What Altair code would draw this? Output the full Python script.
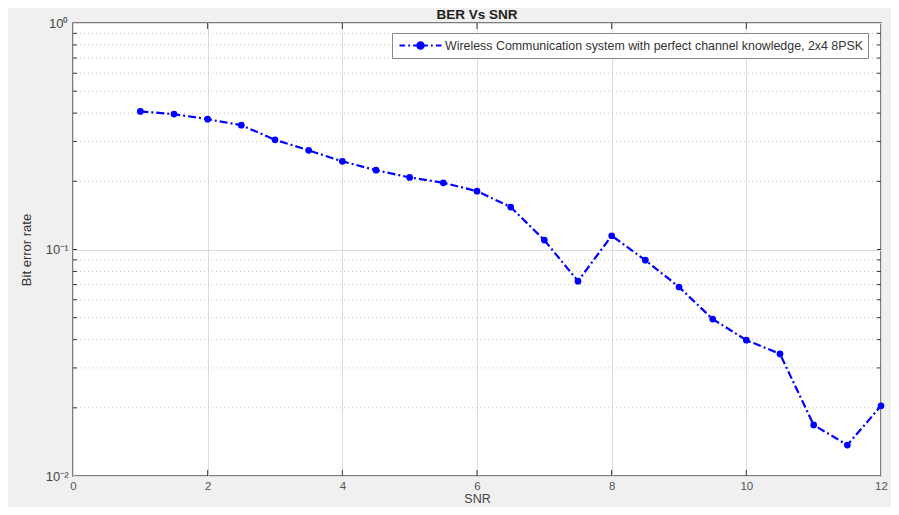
import altair as alt
import pandas as pd

snr = [1, 1.5, 2, 2.5, 3, 3.5, 4, 4.5, 5, 5.5, 6, 6.5, 7, 7.5, 8, 8.5, 9, 9.5, 10, 10.5, 11, 11.5, 12]
ber = [0.407, 0.396, 0.376, 0.354, 0.305, 0.274, 0.245, 0.224, 0.208, 0.197, 0.181, 0.154,
       0.110, 0.0725, 0.115, 0.0897, 0.0683, 0.0493, 0.0398, 0.0346, 0.0168, 0.0137, 0.0204]
series_name = "Wireless Communication system with perfect channel knowledge, 2x4 8PSK"
x_ticks = [0, 2, 4, 6, 8, 10, 12]
y_major = [0.01, 0.1, 1]
y_minor = [0.02, 0.03, 0.04, 0.05, 0.06, 0.07, 0.08, 0.09,
           0.2, 0.3, 0.4, 0.5, 0.6, 0.7, 0.8, 0.9]

df = pd.DataFrame({"SNR": snr, "BER": ber, "series": series_name})
minor_df = pd.DataFrame({"y": y_minor})
ytick_df = pd.DataFrame({"y": y_minor + [0.1]})
xtick_df = pd.DataFrame({"x": x_ticks[1:-1]})

FONT = "Liberation Sans"
BLUE = "#0000ff"
TICK = "#333333"

xscale = alt.Scale(domain=[0, 12], nice=False, zero=False)
yscale = alt.Scale(type="log", domain=[0.01, 1], nice=False)

# legend sample: dash-dot line with a filled circle, wider than tall
legend_symbol = (
    "M-3,0H-2.2M-1.75,0H-1.5M-1.05,0H-0.55"
    "M0.55,0H1.05M1.5,0H1.75M2.2,0H3"
    "M0.45,0A0.45,0.45 0 1,1 -0.45,0A0.45,0.45 0 1,1 0.45,0Z"
)

minor_grid = alt.Chart(minor_df).mark_rule(
    color="#c4c4c4", strokeDash=[1, 3], strokeWidth=1
).encode(
    y=alt.Y("y:Q", scale=yscale)
)

yticks_left = alt.Chart(ytick_df).mark_rule(color=TICK, strokeWidth=1).encode(
    y=alt.Y("y:Q", scale=yscale), x=alt.value(0), x2=alt.value(4)
)
yticks_right = alt.Chart(ytick_df).mark_rule(color=TICK, strokeWidth=1).encode(
    y=alt.Y("y:Q", scale=yscale), x=alt.value(804), x2=alt.value(808)
)
xticks_bottom = alt.Chart(xtick_df).mark_rule(color=TICK, strokeWidth=1).encode(
    x=alt.X("x:Q", scale=xscale), y=alt.value(453), y2=alt.value(447)
)
xticks_top = alt.Chart(xtick_df).mark_rule(color=TICK, strokeWidth=1).encode(
    x=alt.X("x:Q", scale=xscale), y=alt.value(0), y2=alt.value(6)
)

line = alt.Chart(df).mark_line(
    strokeWidth=2.2, strokeDash=[8, 3, 2, 3]
).encode(
    x=alt.X("SNR:Q", scale=xscale,
            axis=alt.Axis(values=x_ticks, title="SNR", grid=True, gridColor="#dcdcdc",
                          format="d", labelFlush=False,
                          labelColor="#555", labelFontSize=11.5, labelFont=FONT,
                          titleColor="#444", titleFontSize=12.5, titleFont=FONT,
                          titleFontWeight="normal", titlePadding=1, labelPadding=4,
                          domain=False, ticks=False)),
    y=alt.Y("BER:Q", scale=yscale,
            axis=alt.Axis(values=y_major, title="Bit error rate", grid=True, gridColor="#dcdcdc",
                          labelExpr="datum.value >= 0.99 ? '10⁰' : (datum.value >= 0.099 ? '10⁻¹' : '10⁻²')",
                          labelColor="#444", labelFontSize=13, labelFont=FONT,
                          titleColor="#333", titleFontSize=13, titleFont=FONT,
                          titleFontWeight="normal", titlePadding=12, labelPadding=5,
                          labelFlush=False,
                          domain=False, ticks=False)),
    color=alt.Color("series:N", scale=alt.Scale(domain=[series_name], range=[BLUE]),
                    legend=alt.Legend(title=None, orient="none", legendX=319, legendY=10,
                                      symbolType=legend_symbol, symbolSize=196,
                                      symbolOffset=16,
                                      symbolStrokeWidth=2.2, symbolFillColor=BLUE,
                                      symbolStrokeColor=BLUE,
                                      labelFont=FONT, labelFontSize=12.4, labelColor="#333",
                                      labelLimit=600, labelOffset=16,
                                      strokeColor="#888", fillColor="white",
                                      padding=4))
)

points = alt.Chart(df).mark_point(
    filled=True, size=45, opacity=1, shape="circle"
).encode(
    x=alt.X("SNR:Q", scale=xscale),
    y=alt.Y("BER:Q", scale=yscale),
    color=alt.Color("series:N", scale=alt.Scale(domain=[series_name], range=[BLUE]), legend=None)
)

chart = alt.layer(minor_grid, xticks_bottom, xticks_top, yticks_left, yticks_right,
                  line, points).properties(
    width=808,
    height=453,
    title=alt.TitleParams("BER Vs SNR", fontSize=13.5, fontWeight="bold", font=FONT,
                          color="#222", offset=4, dy=8, anchor="middle"),
    autosize=alt.AutoSizeParams(type="none"),
    padding={"left": 65, "top": 15, "right": 10, "bottom": 31},
    background="#f0f0f0",
).configure_view(
    fill="white", stroke="#555", strokeWidth=1.5
)

chart.save("out.html", embed_options={"renderer": "svg", "actions": False})
